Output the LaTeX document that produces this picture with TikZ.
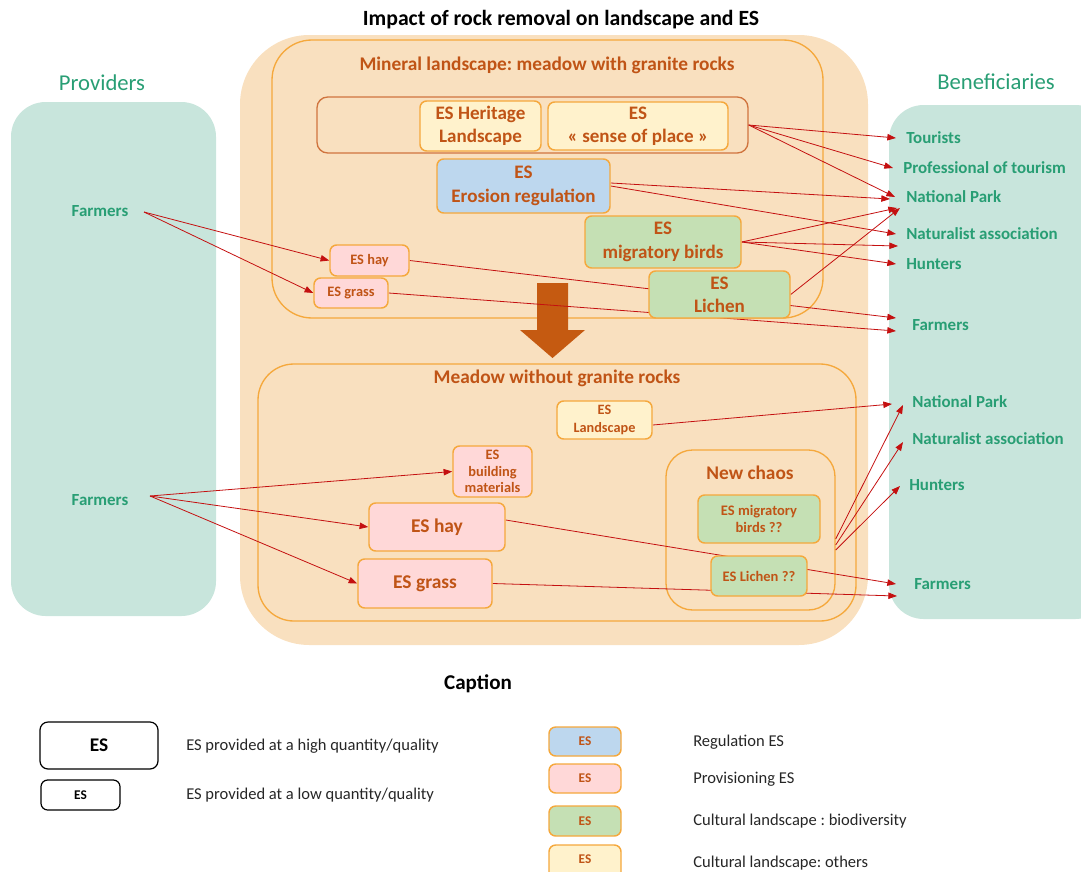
\documentclass[tikz,border=0pt]{standalone}
\usepackage{fontspec}
\setmainfont{Carlito}
\frenchspacing
\usetikzlibrary{arrows.meta,fit,calc}
\definecolor{peach}{RGB}{249,224,191}
\definecolor{boxorange}{RGB}{245,168,60}
\definecolor{grpbrown}{RGB}{208,116,62}
\definecolor{esbrown}{RGB}{192,84,22}
\definecolor{bigarrow}{RGB}{197,90,17}
\definecolor{esyellow}{RGB}{255,242,204}
\definecolor{esblue}{RGB}{189,215,238}
\definecolor{esgreen}{RGB}{197,224,180}
\definecolor{espink}{RGB}{255,216,216}
\definecolor{mint}{RGB}{200,229,220}
\definecolor{gtext}{RGB}{40,158,116}
\definecolor{arrred}{RGB}{196,16,16}
\definecolor{captext}{RGB}{38,38,38}
\pgfdeclarelayer{bg}
\pgfdeclarelayer{mid}
\pgfsetlayers{bg,mid,main}
\newcommand\fsz[2]{\fontsize{#1}{#2}\selectfont}
% box from pixel corners: [style]{name}{x1}{y1}{x2}{y2}{text}
\newcommand\esn[7][]{%
  \pgfmathsetmacro\esncx{(#3+#5)/2}%
  \pgfmathsetmacro\esncy{(#4+#6)/2}%
  \pgfmathsetmacro\esnw{(#5-#3)*0.75}%
  \pgfmathsetmacro\esnh{(#6-#4)*0.75}%
  \node[#1,minimum width=\esnw pt,minimum height=\esnh pt] (#2) at (\esncx,\esncy) {#7};}
\begin{document}
\begin{tikzpicture}[x=0.75pt,y=-0.75pt,
  esbox/.style={draw=boxorange,line width=1.1pt,rounded corners=5pt,inner sep=0pt,align=center,text=esbrown},
  ybox/.style={esbox,fill=esyellow},
  bbox/.style={esbox,fill=esblue},
  gbox/.style={esbox,fill=esgreen},
  pbox/.style={esbox,fill=espink},
  bigtxt/.style={font=\bfseries\fsz{14.3}{17.5}},
  smalltxt/.style={font=\bfseries\fsz{10.8}{12.6}},
  midtxt/.style={font=\bfseries\fsz{14.6}{17}},
  container/.style={draw=boxorange,line width=1pt,inner sep=0pt},
  conttitle/.style={text=esbrown,font=\bfseries\fsz{14.5}{17}},
  panel/.style={fill=mint,inner sep=0pt},
  benef/.style={text=gtext,font=\bfseries\fsz{12.7}{15},anchor=west,inner sep=0pt},
  provtxt/.style={text=gtext,font=\bfseries\fsz{12.7}{15}},
  head/.style={text=gtext,font=\fsz{17}{20}},
  conn/.style={draw=arrred,line width=0.6pt,-{Triangle[length=6.5pt,width=4.8pt]}},
  legbox/.style={draw=black,line width=0.9pt,rounded corners=6pt,inner sep=0pt,font=\bfseries},
  legtxt/.style={text=captext,font=\fsz{12.4}{14},anchor=west,inner sep=0pt},
  legES/.style={font=\bfseries\fsz{10}{12}}
]
\useasboundingbox (0,0) rectangle (1081,871);

% ---------- background layer ----------
\begin{pgfonlayer}{bg}
  \node[fill=peach,inner sep=0pt,rounded corners=52pt,fit={(240,35) (868,645)}] (region) {};
  \node[panel,rounded corners=26pt,fit={(11,102) (216,616)}] (provpanel) {};
  \begin{scope}
    \clip (0,0) rectangle (1081,871);
    \node[panel,rounded corners=26pt,fit={(889,105) (1110,619)}] (benpanel) {};
  \end{scope}
  \node[container,rounded corners=30pt,fit={(272,40) (823,318)}] (mineral) {};
  \node[draw=grpbrown,line width=1pt,inner sep=0pt,rounded corners=8pt,fit={(317,97) (748,153)}] (group) {};
  \node[container,rounded corners=27pt,fit={(258,364) (856,621)}] (meadow) {};
  \node[container,rounded corners=20pt,fit={(666,450) (835,610)}] (chaos) {};
\end{pgfonlayer}

% ---------- titles ----------
\node[font=\bfseries\fsz{16.3}{19}] (title) at (561,20) {Impact of rock removal on landscape and ES};
\node[head] (prov) at (102,83) {Providers};
\node[head] (benef) at (996,82) {Beneficiaries};
\node[conttitle] (mintitle) at (547,65) {Mineral landscape: meadow with granite rocks};
\node[conttitle] (meadtitle) at (557,378) {Meadow without granite rocks};
\node[conttitle] (chaostitle) at (750,473) {New chaos};

% ---------- ES boxes, top ----------
\esn[ybox,bigtxt]{heritage}{420}{101}{541}{151}{ES Heritage\\Landscape}
\esn[ybox,bigtxt]{sense}{548}{102}{728}{150}{ES\\« sense of place »}
\esn[bbox,bigtxt]{erosion}{437}{159}{610}{213}{ES\\Erosion regulation}
\esn[gbox,bigtxt]{birds}{585}{216}{741}{268}{ES\\migratory birds}
\esn[gbox,bigtxt]{lichen}{649}{271}{790}{318}{ES\\Lichen}
\esn[pbox,smalltxt]{hay}{330}{245}{409}{276}{ES hay}
\esn[pbox,smalltxt]{grass}{314}{278}{388}{308}{ES grass}

% ---------- ES boxes, bottom ----------
\esn[ybox,font=\bfseries\fsz{10.7}{13.5}]{landscape}{557}{401}{652}{439}{ES\\Landscape}
\esn[pbox,smalltxt]{building}{453}{446}{532}{497}{ES\\building\\materials}
\esn[pbox,midtxt]{hay2}{369}{503}{505}{551}{ES hay}
\esn[pbox,midtxt]{grass2}{358}{559}{492}{608}{ES grass}
\esn[gbox,font=\bfseries\fsz{10.9}{13}]{birds2}{698}{495}{820}{543}{ES migratory\\birds ??}
\esn[gbox,font=\bfseries\fsz{10.9}{13}]{lichen2}{711}{556}{807}{596}{ES Lichen ??}

% ---------- providers / beneficiaries ----------
\node[provtxt] (farm1) at (100,211) {Farmers};
\node[provtxt] (farm2) at (100,500) {Farmers};
\node[benef] (tour) at (906,138) {Tourists};
\node[benef] (prof) at (903,168) {Professional of tourism};
\node[benef] (np1) at (906,197) {National Park};
\node[benef] (nat1) at (906,234) {Naturalist association};
\node[benef] (hunt1) at (906,264) {Hunters};
\node[benef] (farmr1) at (912,325) {Farmers};
\node[benef] (np2) at (912,402) {National Park};
\node[benef] (nat2) at (912,439) {Naturalist association};
\node[benef] (hunt2) at (909,485) {Hunters};
\node[benef] (farmr2) at (914,584) {Farmers};

% ---------- connectors ----------
\begin{pgfonlayer}{mid}
  % big down arrow
  \fill[bigarrow] (537,283) -- (568,283) -- (568,330) -- (585,330) -- (552.5,358) -- (520,330) -- (537,330) -- cycle;
  % top part
  \draw[conn] ($(farm1.center)+(44,1)$) -- (hay.west);
  \draw[conn] ($(farm1.center)+(44,1)$) -- (grass.west);
  \draw[conn] (group.east) -- ($(tour.west)+(-10,0)$);
  \draw[conn] (group.east) -- ($(prof.west)+(-10,0)$);
  \draw[conn] (group.east) -- ($(np1.west)+(-11,0)$);
  \draw[conn] ($(erosion.east)+(0,-3)$) -- ($(np1.west)+(-16,2)$);
  \draw[conn] (erosion.east) -- ($(nat1.west)+(-10,0)$);
  \draw[conn] (birds.east) -- ($(np1.west)+(-9,11)$);
  \draw[conn] (birds.east) -- ($(nat1.west)+(-8,12)$);
  \draw[conn] (birds.east) -- ($(hunt1.west)+(-10,0)$);
  \draw[conn] (lichen.east) -- ($(np1.west)+(-6,11)$);
  \draw[conn] (hay.east) -- ($(farmr1.west)+(-16,-7)$);
  \draw[conn] (grass.east) -- ($(farmr1.west)+(-16,6)$);
  % bottom part
  \draw[conn] ($(farm2.center)+(50,-4)$) -- (building.west);
  \draw[conn] ($(farm2.center)+(50,-4)$) -- (hay2.west);
  \draw[conn] ($(farm2.center)+(50,-4)$) -- (grass2.west);
  \draw[conn] ($(landscape.east)+(0,5)$) -- ($(np2.west)+(-20,2)$);
  \draw[conn] ($(hay2.east)+(0,-7)$) -- ($(farmr2.west)+(-18,0)$);
  \draw[conn] (grass2.east) -- ($(farmr2.west)+(-17,12)$);
  \draw[conn] ($(chaos.east)+(0,9)$) -- ($(np2.west)+(-9,3)$);
  \draw[conn] ($(chaos.east)+(0,15)$) -- ($(nat2.west)+(-9,3)$);
  \draw[conn] ($(chaos.east)+(0,20)$) -- ($(hunt2.west)+(-9,1)$);
\end{pgfonlayer}

% ---------- caption ----------
\node[font=\bfseries\fsz{15.8}{18}] (captitle) at (478,684) {Caption};
\esn[legbox,font=\bfseries\fsz{14.5}{16}]{lg1}{40}{722}{158}{769}{ES}
\esn[legbox,rounded corners=5pt,legES]{lg2}{41}{780}{120}{810}{ES}
\node[legtxt] (lt1) at (186,746) {ES provided at a high quantity/quality};
\node[legtxt] (lt2) at (186,795) {ES provided at a low quantity/quality};
\esn[bbox,legES]{lc1}{549}{727}{621}{756}{ES}
\esn[pbox,legES]{lc2}{549}{764}{621}{793}{ES}
\esn[gbox,legES]{lc3}{549}{806}{621}{836}{ES}
\begin{scope}
  \clip (0,0) rectangle (1081,871);
  \esn[ybox]{lc4}{549}{845}{621}{880}{}
\end{scope}
\node[text=esbrown,legES] (lc4t) at (585,859) {ES};
\node[legtxt] (ct1) at (693,742) {Regulation ES};
\node[legtxt] (ct2) at (693,779) {Provisioning ES};
\node[legtxt] (ct3) at (693,821) {Cultural landscape : biodiversity};
\node[legtxt] (ct4) at (693,863) {Cultural landscape: others};
\end{tikzpicture}
\end{document}
